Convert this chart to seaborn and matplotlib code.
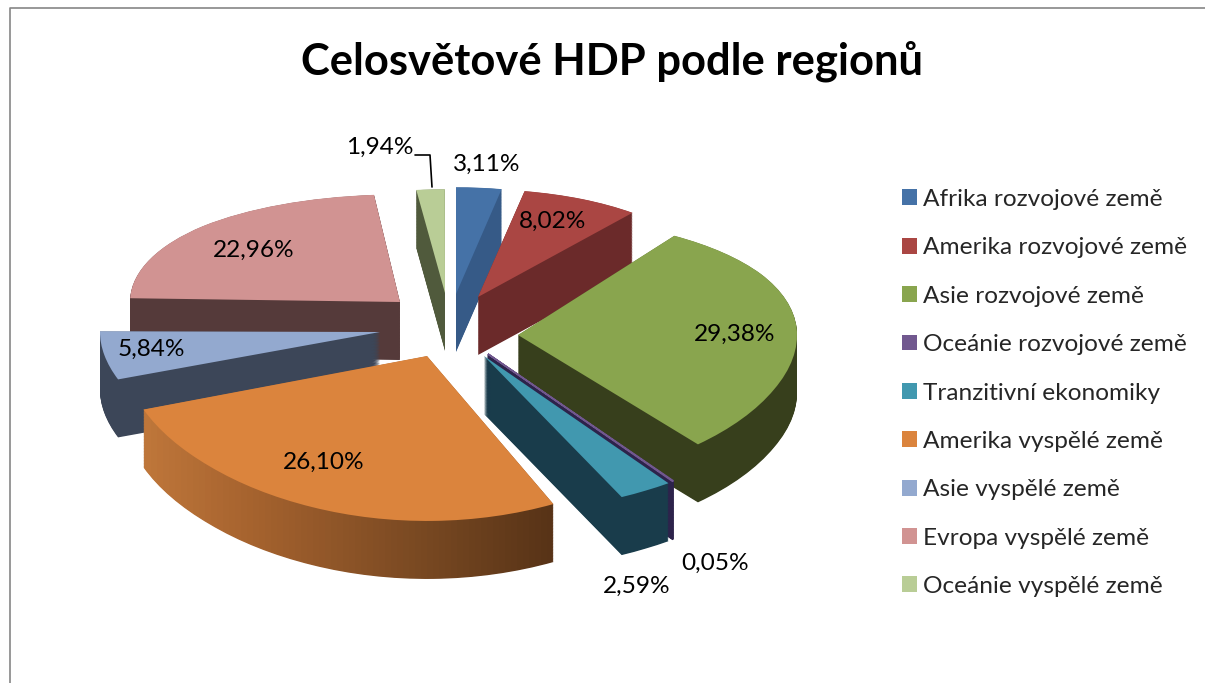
import numpy as np
import matplotlib
matplotlib.use("Agg")
import matplotlib.pyplot as plt
import seaborn as sns
from matplotlib.lines import Line2D
from matplotlib.patches import PathPatch, Patch
from matplotlib.transforms import Affine2D, Bbox, TransformedBbox, IdentityTransform

TITLE = "Celosvětové HDP podle regionů"
regions = ["Afrika rozvojové země", "Amerika rozvojové země", "Asie rozvojové země",
           "Oceánie rozvojové země", "Tranzitivní ekonomiky", "Amerika vyspělé země",
           "Asie vyspělé země", "Evropa vyspělé země", "Oceánie vyspělé země"]
shares = [3.11, 8.02, 29.38, 0.05, 2.59, 26.10, 5.84, 22.96, 1.94]

top_colors = ["#4572A7", "#AA4643", "#89A54E", "#71588F", "#4198AF",
              "#DB843D", "#93A9CF", "#D19392", "#B9CD96"]
side_colors = ["#365A87", "#6B2A2A", "#373F1C", "#2D234B", "#193C4B",
               "#96592A", "#3C4658", "#553A3A", "#505A3C"]

# layout in output pixels
W, H = 1205, 683
X0, Y0 = 450, 340
UNIT = 250.0
K, S = 0.10, 115.0
DEPTH = 58
tips = [(456, 294), (478, 297), (518, 335), (488, 354), (484, 356),
        (427, 356), (380, 332), (400, 302), (445, 293)]
radii = [235, 240, 279, 330, 330, 303, 280, 270, 235]
stretch = [1.08, 1.07, 1.02, 0.90, 0.90, 1.04, 1.0, 0.96, 1.05]
spin = [0, 0, 6, 0, 0, 0, 0, -1.5, 0]
paint_order = [7, 0, 8, 1, 2, 6, 3, 4, 5]
label_xy = [(487, 164), (553, 221), (735, 334), (715, 563), (637, 586),
            (324, 462), (151, 349), (254, 250), (380, 147)]
gradient_x = [143, 250, 400, 553]
gradient_rgb = [(190, 118, 58), (165, 98, 46), (125, 75, 35), (86, 50, 22)]

sns.set_theme(style="white")
plt.rcParams["font.family"] = ["Lato", "DejaVu Sans"]

fig = plt.figure(figsize=(W / 100, H / 100), dpi=100, facecolor="white")
ax = fig.add_axes([0, 0, 1, 1])

starts = 90 - 3.6 * np.concatenate([[0], np.cumsum(shares)[:-1]])


def draw(i, color, lift, lw=0.0):
    wedges, *_ = ax.pie([shares[i] / 100], normalize=False, counterclock=False,
                        startangle=starts[i] + spin[i], radius=radii[i] / UNIT, colors=[color],
                        wedgeprops=dict(linewidth=lw, edgecolor=color))
    w = wedges[0]
    tx, ty = tips[i]
    shift = (Affine2D().translate(0, -(H - Y0)).scale(1, stretch[i]).translate(0, H - Y0)
             .translate(tx - X0, (Y0 - ty) - lift))
    w.set_transform(ax.transData + shift)
    return w


for i in paint_order:
    thin = 1.2 if shares[i] < 0.5 else 0.0
    for d in np.arange(DEPTH, 0, -0.75):
        w = draw(i, side_colors[i], d, lw=thin)
        if regions[i] == "Amerika vyspělé země":
            w.set_visible(False)
            for x in range(gradient_x[0] - 4, gradient_x[-1] + 4, 6):
                rgb = [np.interp(x, gradient_x, [c[n] for c in gradient_rgb]) / 255 for n in range(3)]
                p = PathPatch(w.get_path(), facecolor=rgb, edgecolor="none", lw=0)
                ax.add_patch(p)
                p.set_transform(w.get_transform())
                p.set_clip_box(TransformedBbox(Bbox([[x, 0], [x + 6, H]]), IdentityTransform()))
    draw(i, top_colors[i], 0, lw=thin)

f_top = Y0 / S
f_bot = -(H - Y0) / S
inv = lambda f: f / (1 - K * f)
fwd = lambda y: y / (1 + K * y)
ax.set_yscale("function", functions=(fwd, inv))
ax.set_aspect("auto")
ax.set_xlim(-X0 / UNIT, (W - X0) / UNIT)
ax.set_ylim(inv(f_bot), inv(f_top))
ax.axis("off")

fig.text(612 / W, 1 - 61 / H, TITLE, ha="center", va="center",
         fontsize=31.3, fontweight="bold", color="black")

for v, (x, y) in zip(shares, label_xy):
    fig.text(x / W, 1 - y / H, f"{v:.2f}%".replace(".", ","), ha="center", va="center",
             fontsize=17.6, color="black")

handles = [Patch(facecolor=c, edgecolor="none") for c in top_colors]
fig.legend(handles, regions, loc="upper left", bbox_to_anchor=(902 / W, 1 - 189 / H),
           frameon=False, fontsize=17.6, handlelength=0.62, handleheight=0.62,
           handletextpad=0.25, labelspacing=1.12, borderpad=0, borderaxespad=0)

fig.add_artist(Line2D([10 / W, 10 / W, 1], [0, 1 - 8 / H, 1 - 8 / H], color="#868686", lw=1.2))
fig.add_artist(Line2D([415 / W, 430 / W, 432 / W], [1 - 155 / H, 1 - 155 / H, 1 - 187 / H],
                      color="black", lw=1.2))

fig.savefig("out.png", dpi=100, facecolor="white")
